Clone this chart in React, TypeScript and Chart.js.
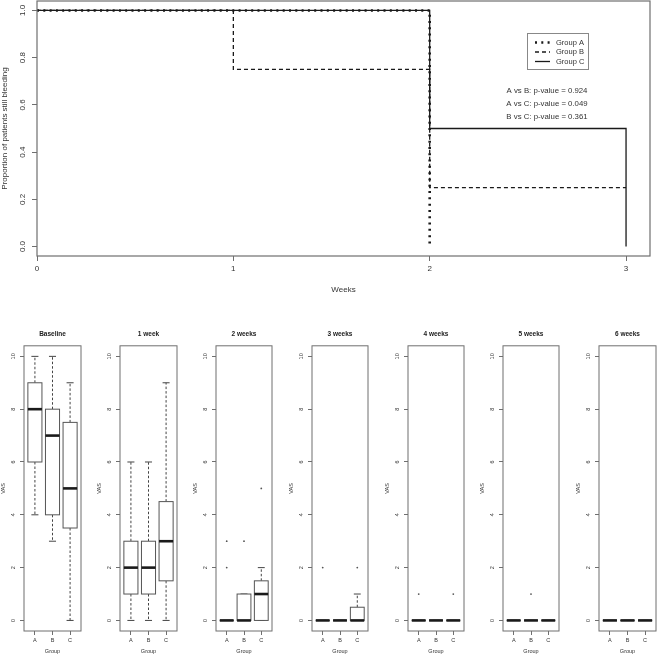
import React, { useEffect, useRef } from 'react';
import { Chart, registerables } from 'chart.js';

Chart.register(...registerables);

const FONT = '"Liberation Sans", Arial, Helvetica, sans-serif';
const TEXT = '#333333';
const FRAME = '#6f6f6f';
const INK = '#1a1a1a';

// ---------- Kaplan-Meier data ----------
const kmWeekTicks = [0, 1, 2, 3];
const kmPropTicks = [0, 0.2, 0.4, 0.6, 0.8, 1.0];
const groupATimes = [0, 2];
const groupASurv = [1, 0];
const groupBTimes = [0, 1, 2, 3];
const groupBSurv = [1, 0.75, 0.25, 0.25];
const groupCTimes = [0, 2, 3];
const groupCSurv = [1, 0.5, 0];
const legendLabels = ['Group A', 'Group B', 'Group C'];
const pValueLines = [
  'A vs B: p-value = 0.924',
  'A vs C: p-value = 0.049',
  'B vs C: p-value = 0.361',
];

// ---------- VAS boxplot data ----------
const panelTitles = ['Baseline', '1 week', '2 weeks', '3 weeks', '4 weeks', '5 weeks', '6 weeks'];
const groups = ['A', 'B', 'C'];
const vasTicks = [0, 2, 4, 6, 8, 10];
const vasLow = [[4, 3, 0], [0, 0, 0], [0, 0, 0], [0, 0, 0], [0, 0, 0], [0, 0, 0], [0, 0, 0]];
const vasQ1 = [[6, 4, 3.5], [1, 1, 1.5], [0, 0, 0], [0, 0, 0], [0, 0, 0], [0, 0, 0], [0, 0, 0]];
const vasMedian = [[8, 7, 5], [2, 2, 3], [0, 0, 1], [0, 0, 0], [0, 0, 0], [0, 0, 0], [0, 0, 0]];
const vasQ3 = [[9, 8, 7.5], [3, 3, 4.5], [0, 1, 1.5], [0, 0, 0.5], [0, 0, 0], [0, 0, 0], [0, 0, 0]];
const vasHigh = [[10, 10, 9], [6, 6, 9], [0, 1, 2], [0, 0, 1], [0, 0, 0], [0, 0, 0], [0, 0, 0]];
const vasOutlierGroup = [[], [], ['A', 'A', 'B', 'C'], ['A', 'C'], ['A', 'C'], ['B'], []];
const vasOutlierValue = [[], [], [2, 3, 3, 5], [2, 2], [1, 1], [1], []];

// ---------- plugins ----------
const framePlugin = {
  id: 'frame',
  afterDraw(chart: any, _a: any, opts: any) {
    const { ctx, chartArea: a } = chart;
    ctx.save();
    ctx.strokeStyle = opts.color || FRAME;
    ctx.lineWidth = opts.width || 1;
    ctx.strokeRect(a.left, a.top, a.right - a.left, a.bottom - a.top);
    ctx.restore();
  },
};

const rotYTicksPlugin = {
  id: 'rotYTicks',
  afterDraw(chart: any, _a: any, opts: any) {
    const { ctx } = chart;
    const s = chart.scales.y;
    ctx.save();
    ctx.fillStyle = TEXT;
    ctx.font = `${opts.size}px ${FONT}`;
    ctx.textAlign = 'center';
    ctx.textBaseline = 'middle';
    s.ticks.forEach((t: any) => {
      const y = s.getPixelForValue(t.value);
      ctx.save();
      ctx.translate(opts.x, y);
      ctx.rotate(-Math.PI / 2);
      ctx.fillText(opts.format(t.value), 0, 0);
      ctx.restore();
    });
    ctx.restore();
  },
};

const kmLegendPlugin = {
  id: 'kmLegend',
  afterDraw(chart: any) {
    const { ctx } = chart;
    ctx.save();
    ctx.strokeStyle = '#888';
    ctx.lineWidth = 1;
    ctx.strokeRect(527.5, 33.5, 61, 36);
    const rows = [42.5, 52, 61.5];
    chart.data.datasets.forEach((ds: any, i: number) => {
      ctx.strokeStyle = INK;
      ctx.lineWidth = ds.borderWidth;
      ctx.setLineDash(ds.borderDash || []);
      ctx.beginPath();
      ctx.moveTo(535, rows[i]);
      ctx.lineTo(550, rows[i]);
      ctx.stroke();
      ctx.setLineDash([]);
      ctx.fillStyle = TEXT;
      ctx.font = `7.5px ${FONT}`;
      ctx.textAlign = 'left';
      ctx.textBaseline = 'middle';
      ctx.fillText(legendLabels[i], 556, rows[i]);
    });
    ctx.font = `7.8px ${FONT}`;
    ctx.textAlign = 'center';
    ctx.textBaseline = 'middle';
    const ys = [91, 104, 117];
    pValueLines.forEach((t, i) => ctx.fillText(t, 547, ys[i]));
    ctx.restore();
  },
};

const boxPlugin = {
  id: 'boxes',
  beforeDatasetsDraw(chart: any, _a: any, opts: any) {
    const p = opts.panel;
    const { ctx } = chart;
    const xs = chart.scales.x;
    const ys = chart.scales.y;
    ctx.save();
    groups.forEach((_g, i) => {
      const cx = xs.getPixelForValue(i + 1);
      const half = xs.getPixelForValue(i + 1.4) - cx;
      const cap = half / 2;
      const yLow = ys.getPixelForValue(vasLow[p][i]);
      const yQ1 = ys.getPixelForValue(vasQ1[p][i]);
      const yMed = ys.getPixelForValue(vasMedian[p][i]);
      const yQ3 = ys.getPixelForValue(vasQ3[p][i]);
      const yHigh = ys.getPixelForValue(vasHigh[p][i]);
      // whiskers
      ctx.strokeStyle = '#444';
      ctx.lineWidth = 1;
      ctx.setLineDash([2.5, 2]);
      ctx.beginPath();
      ctx.moveTo(cx, yQ3); ctx.lineTo(cx, yHigh);
      ctx.moveTo(cx, yQ1); ctx.lineTo(cx, yLow);
      ctx.stroke();
      ctx.setLineDash([]);
      // staples
      ctx.beginPath();
      ctx.moveTo(cx - cap, yHigh); ctx.lineTo(cx + cap, yHigh);
      ctx.moveTo(cx - cap, yLow); ctx.lineTo(cx + cap, yLow);
      ctx.stroke();
      // box
      ctx.fillStyle = '#fff';
      ctx.fillRect(cx - half, yQ3, 2 * half, yQ1 - yQ3);
      ctx.strokeStyle = '#555';
      ctx.strokeRect(cx - half, yQ3, 2 * half, yQ1 - yQ3);
      // median
      ctx.strokeStyle = INK;
      ctx.lineWidth = 2.6;
      ctx.beginPath();
      ctx.moveTo(cx - half, yMed); ctx.lineTo(cx + half, yMed);
      ctx.stroke();
    });
    ctx.restore();
  },
};

// ---------- configs ----------
function kmConfig(): any {
  const mk = (label: string, times: number[], surv: number[], dash: number[], width: number) => ({
    label,
    data: times.map((t, i) => ({ x: t, y: surv[i] })),
    stepped: true,
    borderColor: INK,
    borderWidth: width,
    borderDash: dash,
    borderCapStyle: 'butt',
    pointRadius: 0,
    fill: false,
  });
  return {
    type: 'line',
    data: {
      datasets: [
        mk('Group A', groupATimes, groupASurv, [2, 4.3], 2.6),
        mk('Group B', groupBTimes, groupBSurv, [4, 3], 1.3),
        mk('Group C', groupCTimes, groupCSurv, [], 1.3),
      ],
    },
    options: {
      responsive: false,
      animation: false,
      devicePixelRatio: 1,
      layout: { padding: { top: 1, right: 8, left: 0, bottom: 0 } },
      plugins: {
        legend: { display: false },
        tooltip: { enabled: false },
        frame: { color: FRAME, width: 1.2 },
        rotYTicks: { x: 23, size: 8, format: (v: number) => v.toFixed(1) },
      },
      scales: {
        x: {
          type: 'linear',
          min: 0,
          max: 3.122,
          afterBuildTicks: (s: any) => { s.ticks = kmWeekTicks.map((v) => ({ value: v })); },
          afterFit: (s: any) => { s.height = 44; },
          grid: { drawOnChartArea: false, drawTicks: true, tickLength: 5, color: FRAME },
          border: { display: false },
          ticks: { color: TEXT, font: { family: FONT, size: 8 }, padding: 3, maxRotation: 0 },
          title: { display: true, text: 'Weeks', color: TEXT, font: { family: FONT, size: 8 }, padding: { top: 0, bottom: 5 } },
        },
        y: {
          type: 'linear',
          min: -0.04,
          max: 1.04,
          afterBuildTicks: (s: any) => { s.ticks = kmPropTicks.map((v) => ({ value: v })); },
          afterFit: (s: any) => { s.width = 37; },
          grid: { drawOnChartArea: false, drawTicks: true, tickLength: 5, color: FRAME },
          border: { display: false },
          ticks: { display: false },
          title: { display: true, text: 'Proportion of patients still bleeding', color: TEXT, font: { family: FONT, size: 8 }, padding: { top: 0, bottom: 0 } },
        },
      },
    },
    plugins: [framePlugin, rotYTicksPlugin, kmLegendPlugin],
  };
}

function panelConfig(p: number): any {
  return {
    type: 'scatter',
    data: {
      datasets: [
        {
          label: 'outliers',
          data: vasOutlierGroup[p].map((g, i) => ({ x: groups.indexOf(g) + 1, y: vasOutlierValue[p][i] })),
          pointRadius: 0.9,
          pointBorderWidth: 0,
          backgroundColor: '#555',
          borderColor: '#555',
        },
      ],
    },
    options: {
      responsive: false,
      animation: false,
      devicePixelRatio: 1,
      layout: { padding: { top: 0, right: 3, left: 0, bottom: 0 } },
      plugins: {
        legend: { display: false },
        tooltip: { enabled: false },
        title: {
          display: true,
          text: panelTitles[p],
          fullSize: false,
          color: '#222',
          font: { family: FONT, size: 6.5, weight: 'bold' },
          padding: { top: 10, bottom: 8 },
        },
        frame: { color: FRAME, width: 1 },
        rotYTicks: { x: 13, size: 5.5, format: (v: number) => String(v) },
        boxes: { panel: p },
      },
      scales: {
        x: {
          type: 'linear',
          min: 0.38,
          max: 3.62,
          afterBuildTicks: (s: any) => { s.ticks = groups.map((_g, i) => ({ value: i + 1 })); },
          afterFit: (s: any) => { s.height = 27; },
          grid: { drawOnChartArea: false, drawTicks: true, tickLength: 4, color: FRAME },
          border: { display: false },
          ticks: {
            color: TEXT,
            font: { family: FONT, size: 5.5 },
            padding: 2,
            maxRotation: 0,
            callback: (v: number) => groups[v - 1],
          },
          title: { display: true, text: 'Group', color: TEXT, font: { family: FONT, size: 5.5 }, padding: { top: 0, bottom: 3 } },
        },
        y: {
          type: 'linear',
          min: -0.4,
          max: 10.4,
          afterBuildTicks: (s: any) => { s.ticks = vasTicks.map((v) => ({ value: v })); },
          afterFit: (s: any) => { s.width = 24; },
          grid: { drawOnChartArea: false, drawTicks: true, tickLength: 4, color: FRAME },
          border: { display: false },
          ticks: { display: false },
          title: { display: true, text: 'VAS', color: TEXT, font: { family: FONT, size: 5.5 }, padding: { top: 0, bottom: 0 } },
        },
      },
    },
    plugins: [framePlugin, rotYTicksPlugin, boxPlugin],
  };
}

function ChartBox({ config, left, top, width, height }: any) {
  const ref = useRef<HTMLCanvasElement>(null);
  useEffect(() => {
    const c = new Chart(ref.current as HTMLCanvasElement, config);
    return () => c.destroy();
  }, []);
  return (
    <canvas
      ref={ref}
      width={width}
      height={height}
      style={{ position: 'absolute', left, top, width, height, display: 'block' }}
    />
  );
}

const panelLefts = [24, 120, 216, 312, 408, 503, 599];

export default function App() {
  return (
    <div style={{ position: 'absolute', left: 0, top: 0, width: 658, height: 658, overflow: 'hidden', background: '#fff' }}>
      <ChartBox config={kmConfig()} left={0} top={0} width={658} height={300} />
      {panelTitles.map((_t, p) => (
        <ChartBox key={p} config={panelConfig(p)} left={panelLefts[p] - 24} top={320} width={84} height={338} />
      ))}
    </div>
  );
}
